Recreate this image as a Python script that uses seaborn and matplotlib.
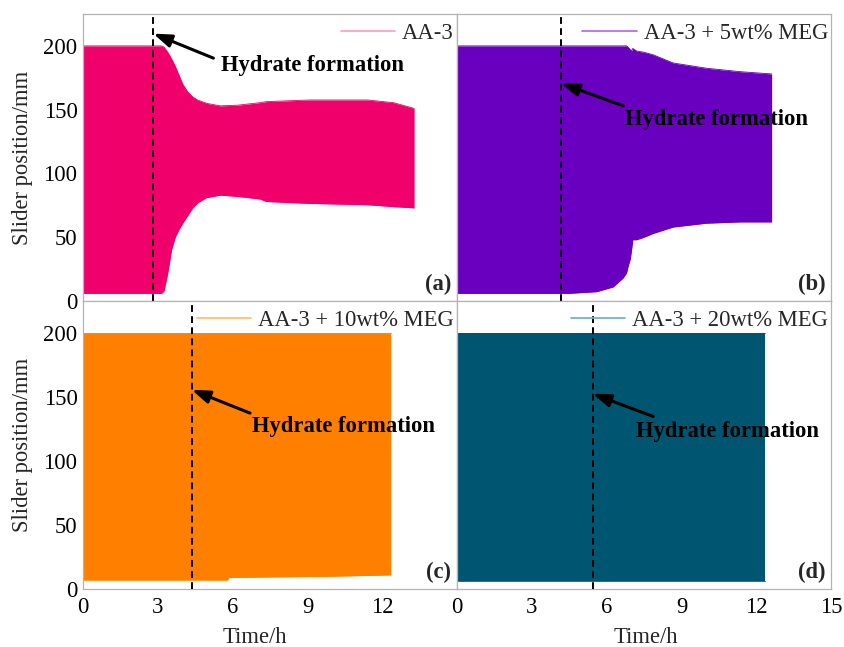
import numpy as np
import pandas as pd
import matplotlib
matplotlib.use("Agg")
import matplotlib.pyplot as plt
import seaborn as sns
from matplotlib.lines import Line2D
from matplotlib.ticker import MultipleLocator

sns.set_theme(style="white")
plt.rcParams['font.family'] = ['Liberation Serif', 'DejaVu Serif']
plt.rcParams['mathtext.fontset'] = 'stix'

# ---------------- data (envelopes of slider oscillation) ----------------
a_time = [0, 3.15, 3.25, 3.4, 3.55, 3.7, 3.85, 4.0, 4.2, 4.4, 4.6, 4.95, 5.5, 6.2, 7.1, 7.35, 9.1, 11.4, 12.45, 13.28]
a_upper = [200, 200, 199, 195, 190, 184, 177, 170, 164, 160, 157.5, 155, 153, 153.5, 155.5, 156.3, 157.6, 157.6, 155.5, 151]
a_lower = [6, 6, 8, 22, 40, 50, 56, 61, 67, 73, 77, 81, 83, 82, 80, 78, 76.5, 75.5, 74, 73]

b_time = [0, 4.5, 5.6, 6.26, 6.66, 6.8, 6.86, 6.95, 7.0, 7.05, 7.2, 7.5, 7.87, 8.67, 10.0, 11.35, 12.62]
b_upper = [200, 200, 200, 200, 200, 200, 199, 197, 196, 198, 196, 195, 193, 186.6, 182.5, 179.8, 178]
b_lower = [6, 6, 7.3, 11, 18, 22, 27, 33, 40, 48, 48, 50, 53, 58, 61, 62, 62]

c_time = [0, 5.8, 5.85, 8.0, 10.0, 12.34]
c_upper = [200, 200, 200, 200, 200, 200]
c_lower = [7, 7, 9, 9.5, 10, 11]

d_time = [0, 12.35]
d_upper = [200, 200]
d_lower = [6, 6]

labels = ["AA-3", "AA-3 + 5wt% MEG", "AA-3 + 10wt% MEG", "AA-3 + 20wt% MEG"]
panel_tags = ["(a)", "(b)", "(c)", "(d)"]
fill_colors = ["#F0006A", "#6A00BF", "#FF7F00", "#005670"]
legend_colors = ["#FFA0C8", "#B070F0", "#FFC070", "#70B8C0"]

hydrate_time = [2.82, 4.17, 4.36, 5.44]
arrow_tip_y = [209.6, 170.7, 155.6, 152.5]
arrow_tail = [(5.23, 190.4), (6.67, 153), (6.7, 137.4), (7.87, 134.8)]
text_pos = [(5.53, 185), (6.74, 142.5), (6.77, 127), (7.18, 123)]

x_ticks = [0, 3, 6, 9, 12, 15]
y_ticks = [0, 50, 100, 150, 200]

series = [(a_time, a_upper, a_lower), (b_time, b_upper, b_lower),
          (c_time, c_upper, c_lower), (d_time, d_upper, d_lower)]

# ---------------- figure ----------------
W, H = 844, 647
fig = plt.figure(figsize=(W / 100, H / 100), dpi=100)
left_px, mid_px, right_px = 83, 457, 831
top_px, midy_px, bot_px = 14, 301, 589
rects = [
    (left_px, top_px, mid_px, midy_px),
    (mid_px, top_px, right_px, midy_px),
    (left_px, midy_px, mid_px, bot_px),
    (mid_px, midy_px, right_px, bot_px),
]
spine_col = "#B4B4B4"
FS = 16.3

for i, (x0, y0, x1, y1) in enumerate(rects):
    ax = fig.add_axes([x0 / W, 1 - y1 / H, (x1 - x0) / W, (y1 - y0) / H])
    t, up, lo = series[i]
    df = pd.DataFrame({"t": t, "up": up, "lo": lo})
    ax.fill_between(df["t"], df["lo"], df["up"], color=fill_colors[i], lw=0)
    sns.lineplot(data=df, x="t", y="up", ax=ax, color=fill_colors[i], lw=0.6, legend=False)
    sns.lineplot(data=df, x="t", y="lo", ax=ax, color=fill_colors[i], lw=0.6, legend=False)
    ax.set_xlim(0, 15)
    ax.set_ylim(0, 225)
    ax.set_xlabel("")
    ax.set_ylabel("")
    ax.set_xticks(x_ticks)
    ax.set_yticks(y_ticks)
    ax.xaxis.set_minor_locator(MultipleLocator(1.5))
    ax.yaxis.set_minor_locator(MultipleLocator(25))
    ax.tick_params(which="both", direction="in", color=spine_col, width=0.8,
                   top=False, right=False, labelsize=FS, labelcolor="black")
    ax.tick_params(which="major", length=4)
    ax.tick_params(axis="y", which="major", pad=4)
    ax.tick_params(axis="x", which="major", pad=6)
    ax.tick_params(which="minor", length=2.5)
    for s in ax.spines.values():
        s.set_color(spine_col)
        s.set_linewidth(0.9)
        s.set_visible(True)
    col = i % 2
    row = i // 2
    if row == 0:
        ax.tick_params(labelbottom=False)
    else:
        if col == 0:
            ax.set_xticklabels(["0", "3", "6", "9", "12", ""])
        ax.set_xlabel("Time/h", fontsize=FS)
        ax.xaxis.set_label_coords(0.46 if col == 0 else 0.505, -0.132)
    if col == 1:
        ax.tick_params(labelleft=False)
    else:
        ax.set_ylabel("Slider position/mm", fontsize=FS)
        ax.yaxis.set_label_coords(-0.135, 0.5)

    # hydrate formation marker
    ax.axvline(hydrate_time[i], color="black", lw=1.4, ls=(0, (3.5, 2.2)), zorder=5)
    ax.annotate("", xy=(hydrate_time[i], arrow_tip_y[i]), xytext=arrow_tail[i],
                arrowprops=dict(arrowstyle="-|>,head_length=0.9,head_width=0.32",
                                color="black", lw=2.2, shrinkA=0, shrinkB=0), zorder=6)
    ax.text(text_pos[i][0], text_pos[i][1], "Hydrate formation", fontsize=FS,
            fontweight="bold", ha="left", va="center", color="black", zorder=6)

    handle = Line2D([0], [0], color=legend_colors[i], lw=1.3)
    ax.legend([handle], [labels[i]], loc="upper right", bbox_to_anchor=(1 + 6 / 374, 1),
              frameon=False, fontsize=FS, handlelength=2.4, handletextpad=0.3,
              borderaxespad=0.1, borderpad=0.3)
    ax.text(0.985, 0.056, panel_tags[i], transform=ax.transAxes, fontsize=FS,
            fontweight="bold", ha="right", va="center")

fig.savefig("out.png", dpi=100)
